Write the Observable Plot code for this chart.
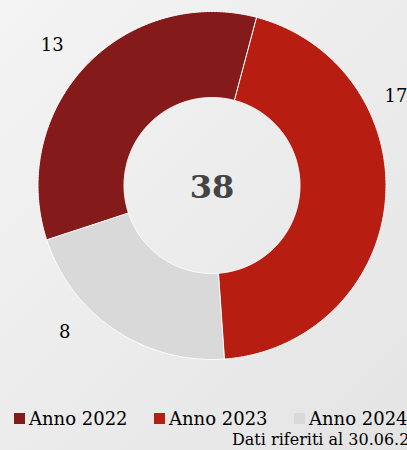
<!DOCTYPE html>
<html>
<head>
<meta charset="utf-8">
<script src="https://cdn.jsdelivr.net/npm/d3@7"></script>
<script src="https://cdn.jsdelivr.net/npm/@observablehq/plot@0.6"></script>
<style>
  html, body { margin: 0; padding: 0; }
  body {
    width: 407px; height: 450px; overflow: hidden; position: relative;
    background: linear-gradient(135deg, #f4f4f4 0%, #e4e4e4 100%);
    font-family: Georgia, "DejaVu Serif", serif;
  }
  #chart svg { display: block; background: transparent; }
  .legend-item { position: absolute; top: 408px; white-space: nowrap; font-size: 18px; color: #000; line-height: 22px; }
  .legend-item .sw { display: inline-block; width: 11px; height: 11px; margin-right: 4px; vertical-align: 1px; }
  #caption { position: absolute; left: 232px; top: 431px; white-space: nowrap; font-size: 16px; color: #000; line-height: 18px; }
</style>
</head>
<body>
<div id="chart"></div>
<div id="legend"></div>
<div id="caption"></div>
<script>
// ---- data ----
const categories = ["Anno 2022", "Anno 2023", "Anno 2024"];
const values = [13, 17, 8];
const colors = ["#841a1a", "#b81d12", "#d9d9d9"];
const captionText = "Dati riferiti al 30.06.2024";

// ---- geometry ----
const total = d3.sum(values);
const startAngle = -108.2;      // degrees, clockwise from top
const rOuter = 174, rInner = 88, labelR = 204;
const rad = Math.PI / 180;

const arcPts = [];
const labels = [];
let acc = startAngle;
values.forEach((v, i) => {
  const a0 = acc, a1 = acc + v / total * 360;
  acc = a1;
  const n = Math.ceil((a1 - a0) / 0.5);
  for (let k = 0; k <= n; k++) {
    const a = (a0 + (a1 - a0) * k / n) * rad;
    arcPts.push({cat: categories[i], x: rOuter * Math.sin(a), y: rOuter * Math.cos(a)});
  }
  for (let k = n; k >= 0; k--) {
    const a = (a0 + (a1 - a0) * k / n) * rad;
    arcPts.push({cat: categories[i], x: rInner * Math.sin(a), y: rInner * Math.cos(a)});
  }
  // label layout (pie-style: outside, clamped to plot area)
  const m = ((a0 + a1) / 2) * rad;
  let x = labelR * Math.sin(m), y = labelR * Math.cos(m);
  const side = x < 0 ? -1 : 1;
  if (y < -147) { y = -147; x = side * Math.sqrt(labelR * labelR - y * y); }
  if (x > 172.5) { x = 172.5; y = Math.sqrt(labelR * labelR - x * x) - 20; }
  labels.push({x, y, side, text: String(v)});
});

const font = 'Georgia, "DejaVu Serif", serif';

const plot = Plot.plot({
  width: 407,
  height: 400,
  marginLeft: 36.5,
  marginRight: 20.5,
  marginTop: 10,
  marginBottom: 40,
  style: {background: "transparent", overflow: "visible"},
  x: {domain: [-175, 175], axis: null},
  y: {domain: [-175, 175], axis: null},
  color: {domain: categories, range: colors},
  marks: [
    Plot.line(arcPts, {x: "x", y: "y", z: "cat", fill: "cat", stroke: "#ffffff", strokeWidth: 1, curve: "linear-closed"}),
    Plot.text(labels.filter(d => d.side < 0), {x: "x", y: "y", text: "text", textAnchor: "end", fontSize: 18, fontFamily: font, fill: "#000"}),
    Plot.text(labels.filter(d => d.side > 0), {x: "x", y: "y", text: "text", textAnchor: "start", fontSize: 18, fontFamily: font, fill: "#000"}),
    Plot.text([String(total)], {frameAnchor: "middle", text: d => d, fontSize: 32, fontWeight: "bold", fontFamily: font, fill: "#444", dy: 2})
  ]
});
document.getElementById("chart").appendChild(plot);

// ---- legend ----
const legend = document.getElementById("legend");
categories.forEach((c, i) => {
  const item = document.createElement("div");
  item.className = "legend-item";
  item.style.left = (14 + i * 140) + "px";
  const sw = document.createElement("span");
  sw.className = "sw";
  sw.style.background = colors[i];
  item.appendChild(sw);
  item.appendChild(document.createTextNode(c));
  legend.appendChild(item);
});
document.getElementById("caption").textContent = captionText;
</script>
</body>
</html>
